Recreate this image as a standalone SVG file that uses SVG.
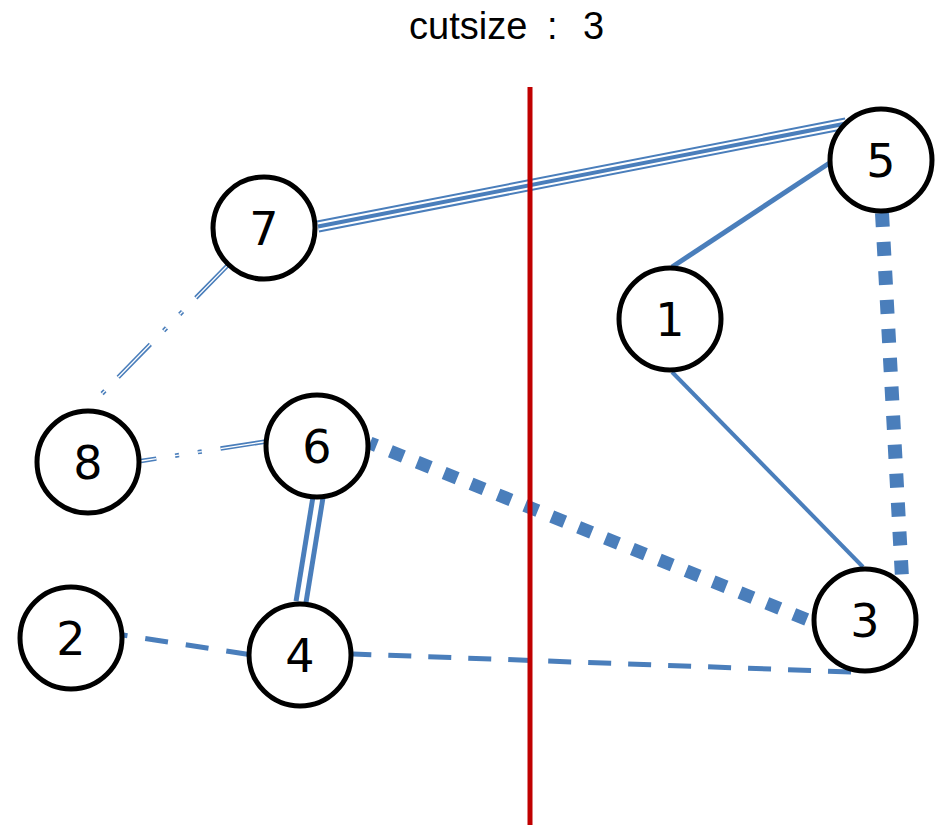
<svg xmlns="http://www.w3.org/2000/svg" width="946" height="825" viewBox="0 0 946 825">
<style>
.e{fill:none;stroke:#4A7EBB;stroke-linecap:butt}
.w{fill:none;stroke:#fff;stroke-linecap:butt}
.n circle{fill:#fff;stroke:#000;stroke-width:5}
.n text{font-family:"DejaVu Sans",sans-serif;font-size:46px;text-anchor:middle;fill:#000}
.t{font-family:"Liberation Sans",Arial,sans-serif;font-size:38px;fill:#000}
</style>
<rect width="946" height="825" fill="#fff"/>
<text class="t" x="409" y="39">cutsize<tspan x="547">:</tspan><tspan x="583">3</tspan></text>
<g id="connectors">
  <path class="e" d="M318,226.5 L846,123.5" stroke-width="12"/>
  <path class="w" d="M318,226.5 L846,123.5" stroke-width="8"/>
  <path class="e" d="M318,226.5 L846,123.5" stroke-width="4"/>
  <path class="e" d="M228,265 L90,406" stroke-width="4.5" stroke-dasharray="46 19 4 19 4 19"/>
  <path class="w" d="M228,265 L90,406" stroke-width="1.3" stroke-dasharray="46 19 4 19 4 19"/>
  <path class="e" d="M266,441.5 L141,461" stroke-width="4.5" stroke-dasharray="46 19 4 19 4 19"/>
  <path class="w" d="M266,441.5 L141,461" stroke-width="1.3" stroke-dasharray="46 19 4 19 4 19"/>
  <path class="e" d="M318.5,494 L301,602" stroke-width="15"/>
  <path class="w" d="M318.5,494 L301,602" stroke-width="5"/>
  <path class="e" d="M249,654.5 L123,635" stroke-width="5" stroke-dasharray="23 18"/>
  <path class="e" d="M851,672 L353,654" stroke-width="5" stroke-dasharray="23 17"/>
  <path class="e" d="M370,443 L813,622" stroke-width="13" stroke-dasharray="14 15" stroke-dashoffset="7"/>
  <path class="e" d="M882,213 L902,578" stroke-width="14" stroke-dasharray="14 15"/>
  <path class="e" d="M831,162 L672,267" stroke-width="5"/>
  <path class="e" d="M672,372 L863,567" stroke-width="4"/>
</g>
<line x1="530" y1="87" x2="530" y2="825" stroke="#C00000" stroke-width="5"/>
<g id="node1" class="n"><circle cx="670" cy="319" r="51"/><text x="670" y="336">1</text></g>
<g id="node2" class="n"><circle cx="71" cy="638" r="51"/><text x="71" y="655">2</text></g>
<g id="node3" class="n"><circle cx="865" cy="620" r="51"/><text x="865" y="637">3</text></g>
<g id="node4" class="n"><circle cx="300" cy="655" r="51"/><text x="300" y="672">4</text></g>
<g id="node5" class="n"><circle cx="881" cy="160" r="51"/><text x="881" y="177">5</text></g>
<g id="node6" class="n"><circle cx="317" cy="446" r="51"/><text x="317" y="463">6</text></g>
<g id="node7" class="n"><circle cx="264" cy="228" r="51"/><text x="264" y="245">7</text></g>
<g id="node8" class="n"><circle cx="88" cy="462" r="51"/><text x="88" y="479">8</text></g>
</svg>
